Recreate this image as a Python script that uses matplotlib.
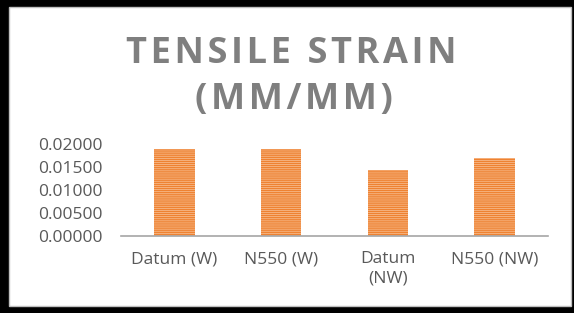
import matplotlib.pyplot as plt
from matplotlib.patches import Rectangle

categories = ['Datum (W)', 'N550 (W)', 'Datum\n(NW)', 'N550 (NW)']
strain = [0.0189, 0.0189, 0.01435, 0.01696]
yticks = [0.0, 0.005, 0.01, 0.015, 0.02]

plt.rcParams['font.family'] = ['Open Sans', 'DejaVu Sans']
plt.rcParams['hatch.linewidth'] = 1.0

W, H = 574, 313
fig = plt.figure(figsize=(W / 100, H / 100), dpi=100)

# black frame round the chart
fig.patches.append(Rectangle((0, 0), 1, 1, transform=fig.transFigure,
                             facecolor='black', zorder=-3))
fig.patches.append(Rectangle((9 / W, 7 / H), (571 - 9) / W, (306 - 7) / H,
                             transform=fig.transFigure, facecolor='white',
                             edgecolor='#bfbfbf', linewidth=1, zorder=-2))

ax = fig.add_axes([121 / W, (H - 236) / H, (548 - 121) / W, (236 - 144) / H])
x = range(len(categories))
ax.bar(x, strain, width=0.38, color='#F9C49A', hatch='--------',
       edgecolor='#EE8232', linewidth=0)
ax.set_xlim(-0.5, 3.5)
ax.set_ylim(0, 0.02)
ax.set_yticks(yticks)
ax.set_yticklabels([f'{v:.5f}' for v in yticks])
ax.set_xticks(list(x))
ax.set_xticklabels(categories, linespacing=1.3)
ax.tick_params(length=0, labelsize=12.5, labelcolor='#595959')
ax.tick_params(axis='x', pad=11)
ax.tick_params(axis='y', pad=13)
for s in ['top', 'right', 'left']:
    ax.spines[s].set_visible(False)
ax.spines['bottom'].set_color('#a6a6a6')
ax.spines['bottom'].set_linewidth(1.2)
ax.patch.set_alpha(0)

# letter-spaced title, hair spaces between the letters
def spaced(s):
    return '\u200a'.join(s)

title_kw = dict(ha='center', va='baseline', fontsize=26, fontweight='bold',
                color='#7f7f7f')
fig.text(291 / W, 1 - 63 / H, spaced('TENSILE') + '\u200a \u200a' + spaced('STRAIN'),
         **title_kw)
fig.text(294 / W, 1 - 109 / H, spaced('(MM/MM)'), **title_kw)

fig.savefig('out.png', dpi=100)
